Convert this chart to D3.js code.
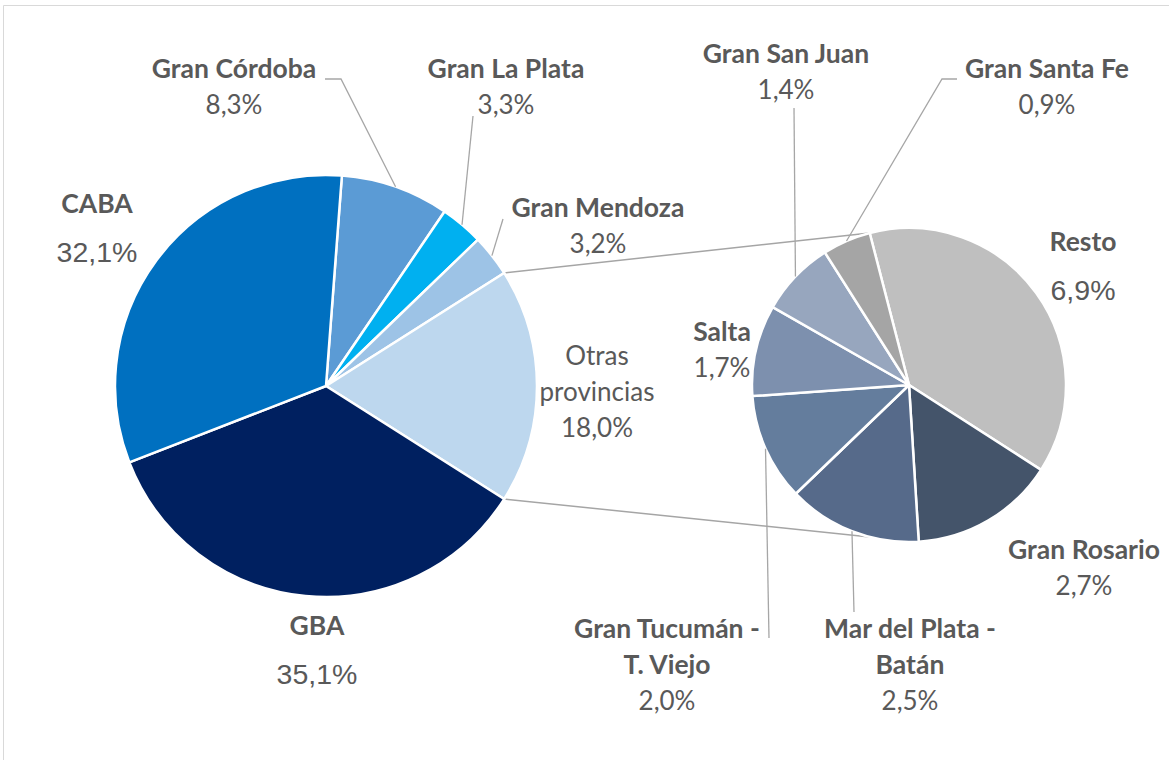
<!DOCTYPE html>
<html>
<head>
<meta charset="utf-8">
<script src="https://cdn.jsdelivr.net/npm/d3@7"></script>
<style>
  html, body { margin: 0; padding: 0; background: #ffffff; }
  svg { display: block; }
</style>
</head>
<body>
<svg id="chart" width="1169" height="760"></svg>
<script>
// ---------- DATA ----------
const mainCategories = ["Gran Córdoba", "Gran La Plata", "Gran Mendoza", "Otras provincias", "GBA", "CABA"];
const mainValues = [8.3, 3.3, 3.2, 18.0, 35.1, 32.1];
const mainLabels = ["8,3%", "3,3%", "3,2%", "18,0%", "35,1%", "32,1%"];
const mainColors = ["#5B9BD5", "#00B0F0", "#9DC3E6", "#BDD7EE", "#002060", "#0070C0"];

const subCategories = ["Resto", "Gran Rosario", "Mar del Plata - Batán", "Gran Tucumán - T. Viejo", "Salta", "Gran San Juan", "Gran Santa Fe"];
const subValues = [6.9, 2.7, 2.5, 2.0, 1.7, 1.4, 0.9];
const subLabels = ["6,9%", "2,7%", "2,5%", "2,0%", "1,7%", "1,4%", "0,9%"];
const subColors = ["#BFBFBF", "#44546A", "#566A8A", "#647D9D", "#7D90AE", "#97A6BE", "#A5A5A5"];

// ---------- LAYOUT ----------
const svg = d3.select("#chart");
const W = 1169, H = 760;
const textColor = "#595959";
const lineColor = "#A6A6A6";
const boldFont = "Lato, 'Open Sans', sans-serif";
const bigFont = "'Liberation Sans', Arial, sans-serif";

// border (chart area edges)
svg.append("line").attr("x1", 3.5).attr("x2", W).attr("y1", 5.5).attr("y2", 5.5).attr("stroke", "#D9D9D9").attr("stroke-width", 1);
svg.append("line").attr("x1", 3.5).attr("x2", 3.5).attr("y1", 5.5).attr("y2", H).attr("stroke", "#D9D9D9").attr("stroke-width", 1);

const M = { cx: 326, cy: 386, r: 211 };
const S = { cx: 909, cy: 385, r: 157 };
const deg = Math.PI / 180;

// main pie: "Otras provincias" centered at 3 o'clock
const otherIdx = mainCategories.indexOf("Otras provincias");
const mainTotal = d3.sum(mainValues);
const before = d3.sum(mainValues.slice(0, otherIdx));
const mainStart = (Math.PI / 2) - (before + mainValues[otherIdx] / 2) / mainTotal * 2 * Math.PI;

const mainPie = d3.pie().sort(null).value(d => d).startAngle(mainStart).endAngle(mainStart + 2 * Math.PI);
const subStart = -14.5 * deg;
const subPie = d3.pie().sort(null).value(d => d).startAngle(subStart).endAngle(subStart + 2 * Math.PI);

const mainArcs = mainPie(mainValues);
const subArcs = subPie(subValues);

const arcMain = d3.arc().innerRadius(0).outerRadius(M.r);
const arcSub = d3.arc().innerRadius(0).outerRadius(S.r);

function pt(c, a, rr) { return [c.cx + (rr === undefined ? c.r : rr) * Math.sin(a), c.cy - (rr === undefined ? c.r : rr) * Math.cos(a)]; }

// connector lines
const oa = mainArcs[otherIdx];
const gLines = svg.append("g");
const topA = pt(M, oa.startAngle), botA = pt(M, oa.endAngle);
const topB = pt(S, subStart), botB = pt(S, Math.PI - subStart);
gLines.append("line").attr("x1", topA[0]).attr("y1", topA[1]).attr("x2", topB[0]).attr("y2", topB[1])
  .attr("stroke", "#A5A5A5").attr("stroke-width", 1.5);
gLines.append("line").attr("x1", botA[0]).attr("y1", botA[1]).attr("x2", botB[0]).attr("y2", botB[1])
  .attr("stroke", "#A5A5A5").attr("stroke-width", 1.5);

// slices
svg.append("g").attr("transform", `translate(${M.cx},${M.cy})`)
  .selectAll("path").data(mainArcs).join("path")
  .attr("d", arcMain).attr("fill", (d, i) => mainColors[i])
  .attr("stroke", "#ffffff").attr("stroke-width", 2.5).attr("stroke-linejoin", "round");

svg.append("g").attr("transform", `translate(${S.cx},${S.cy})`)
  .selectAll("path").data(subArcs).join("path")
  .attr("d", arcSub).attr("fill", (d, i) => subColors[i])
  .attr("stroke", "#ffffff").attr("stroke-width", 2.5).attr("stroke-linejoin", "round");

// ---------- LABELS ----------
const mainLayout = {
  "Gran Córdoba":     { x: 234, y: 78,  lines: ["Gran Córdoba"], big: false, leader: [[325, 79], [341, 79]] },
  "Gran La Plata":    { x: 506, y: 78,  lines: ["Gran La Plata"], big: false, leader: [[473, 116]] },
  "Gran Mendoza":     { x: 598, y: 217, lines: ["Gran Mendoza"], big: false, leader: [[503, 219]] },
  "Otras provincias": { x: 597, y: 365, lines: ["Otras", "provincias"], big: false, plain: true },
  "GBA":              { x: 317, y: 635, lines: ["GBA"], big: true },
  "CABA":             { x: 97,  y: 213, lines: ["CABA"], big: true }
};
const subLayout = {
  "Resto":                   { x: 1083, y: 251, lines: ["Resto"], big: true },
  "Gran Rosario":            { x: 1084, y: 559, lines: ["Gran Rosario"], big: false },
  "Mar del Plata - Batán":   { x: 910, y: 638, lines: ["Mar del Plata -", "Batán"], big: false, leader: [[854, 612]] },
  "Gran Tucumán - T. Viejo": { x: 667, y: 638, lines: ["Gran Tucumán -", "T. Viejo"], big: false, leader: [[769, 638]] },
  "Salta":                   { x: 722, y: 341, lines: ["Salta"], big: false },
  "Gran San Juan":           { x: 786, y: 63,  lines: ["Gran San Juan"], big: false, leader: [[794, 108]] },
  "Gran Santa Fe":           { x: 1047, y: 78, lines: ["Gran Santa Fe"], big: false, leader: [[957, 79], [942, 79]] }
};

const gLeaders = svg.append("g");
const gText = svg.append("g");
const lineH = 35.5;

function drawLabels(cats, arcs, labels, layout, C) {
  cats.forEach((name, i) => {
    const L = layout[name];
    const mid = (arcs[i].startAngle + arcs[i].endAngle) / 2;
    if (L.leader) {
      const pts = L.leader.concat([pt(C, mid)]);
      gLeaders.append("path").attr("d", d3.line()(pts))
        .attr("fill", "none").attr("stroke", lineColor).attr("stroke-width", 1.3);
    }
    L.lines.forEach((t, k) => {
      gText.append("text").attr("x", L.x).attr("y", L.y + k * lineH)
        .attr("text-anchor", "middle").attr("fill", textColor)
        .attr("font-family", boldFont).attr("font-weight", L.plain ? 400 : 700)
        .attr("font-size", L.plain ? 26 : 26.5).text(t);
    });
    const vy = L.y + (L.lines.length - 1) * lineH + (L.big ? 49 : 36);
    gText.append("text").attr("x", L.x).attr("y", vy)
      .attr("text-anchor", "middle").attr("fill", textColor)
      .attr("font-family", L.big ? bigFont : boldFont).attr("font-weight", 400)
      .attr("font-size", L.big ? 28.5 : 26).text(labels[i]);
  });
}
drawLabels(mainCategories, mainArcs, mainLabels, mainLayout, M);
drawLabels(subCategories, subArcs, subLabels, subLayout, S);
</script>
</body>
</html>
